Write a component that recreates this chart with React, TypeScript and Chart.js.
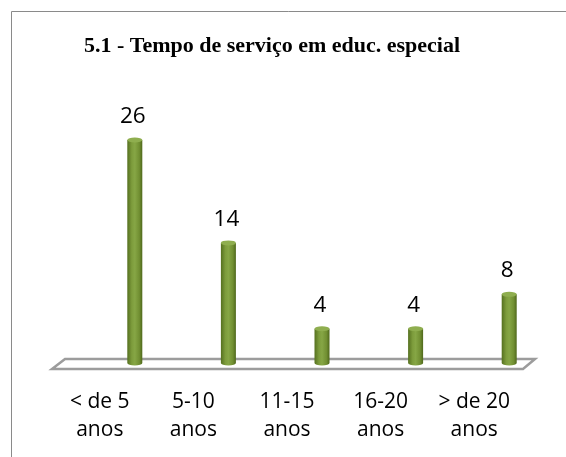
import React, { useEffect, useRef } from "react";
import { Chart, registerables } from "chart.js";

Chart.register(...registerables);

const categories: string[][] = [
  ["< de 5", "anos"],
  ["5-10", "anos"],
  ["11-15", "anos"],
  ["16-20", "anos"],
  ["> de 20", "anos"],
];
const values: number[] = [26, 14, 4, 4, 8];
const titleText = "5.1 - Tempo de serviço em educ. especial";

const DEPTH_X = 35;
const BAR_W = 15;

const framePlugin = {
  id: "frame",
  beforeDraw(chart: any) {
    const { ctx, width, height } = chart;
    ctx.save();
    ctx.fillStyle = "#ffffff";
    ctx.fillRect(0, 0, width, height);
    ctx.strokeStyle = "#8a8a8a";
    ctx.lineWidth = 1;
    ctx.beginPath();
    ctx.moveTo(11.5, height);
    ctx.lineTo(11.5, 11.5);
    ctx.lineTo(width, 11.5);
    ctx.stroke();
    ctx.restore();
  },
};

const floorPlugin = {
  id: "floor",
  beforeDatasetsDraw(chart: any) {
    const { ctx, chartArea } = chart;
    const l = chartArea.left - 1;
    const r = chartArea.right + 2;
    const b = chartArea.bottom;
    ctx.save();
    ctx.beginPath();
    ctx.moveTo(l, b + 6);
    ctx.lineTo(r, b + 6);
    ctx.lineTo(r + 12, b - 4);
    ctx.lineTo(l + 13, b - 4);
    ctx.closePath();
    ctx.fillStyle = "#ffffff";
    ctx.fill();
    ctx.strokeStyle = "#9c9c9c";
    ctx.lineWidth = 2.5;
    ctx.lineJoin = "miter";
    ctx.stroke();
    ctx.restore();
  },
};

const cylinderPlugin = {
  id: "cylinders",
  beforeDatasetDraw(chart: any, args: any) {
    const meta = args.meta;
    const ctx = chart.ctx;
    ctx.save();
    meta.data.forEach((el: any) => {
      const cx = el.x + DEPTH_X;
      const ty = el.y;
      const by = el.base;
      const rx = BAR_W / 2;
      const ry = 2.5;
      const g = ctx.createLinearGradient(cx - rx, 0, cx + rx, 0);
      g.addColorStop(0, "#55701f");
      g.addColorStop(0.3, "#7d9c3c");
      g.addColorStop(0.5, "#86a645");
      g.addColorStop(0.8, "#718f32");
      g.addColorStop(1, "#4f681c");
      ctx.fillStyle = g;
      ctx.beginPath();
      ctx.moveTo(cx - rx, ty);
      ctx.lineTo(cx - rx, by);
      ctx.ellipse(cx, by, rx, ry, 0, Math.PI, 0, true);
      ctx.lineTo(cx + rx, ty);
      ctx.closePath();
      ctx.fill();
      ctx.beginPath();
      ctx.ellipse(cx, ty, rx, ry, 0, 0, Math.PI * 2);
      ctx.fillStyle = "#8fae4f";
      ctx.fill();
    });
    ctx.restore();
    return false;
  },
  afterDatasetsDraw(chart: any) {
    const ctx = chart.ctx;
    const meta = chart.getDatasetMeta(0);
    ctx.save();
    ctx.font = "22.5px 'Open Sans'";
    ctx.fillStyle = "#000000";
    ctx.textAlign = "center";
    ctx.textBaseline = "alphabetic";
    meta.data.forEach((el: any, i: number) => {
      ctx.fillText(String(values[i]), el.x + DEPTH_X - 2, el.y - 17);
    });
    ctx.restore();
  },
};

export default function App() {
  const ref = useRef<HTMLCanvasElement>(null);
  useEffect(() => {
    document.body.style.margin = "0";
    const chart = new Chart(ref.current as HTMLCanvasElement, {
      type: "bar",
      data: {
        labels: categories,
        datasets: [
          {
            data: values,
            backgroundColor: "#77933c",
          },
        ],
      },
      options: {
        animation: false,
        responsive: false,
        layout: { padding: { left: 0, right: 22, top: 0, bottom: 13 } },
        plugins: {
          legend: { display: false },
          tooltip: { enabled: false },
          title: {
            display: true,
            text: titleText,
            color: "#000000",
            font: { family: "'Liberation Serif'", size: 22, weight: "bold", lineHeight: 1.2 },
            padding: { top: 33, bottom: 46.2 },
          },
        },
        scales: {
          x: {
            offset: true,
            grid: { display: false, drawTicks: false },
            border: { display: false },
            ticks: {
              color: "#000000",
              padding: 25,
              maxRotation: 0,
              autoSkip: false,
              font: { family: "'Open Sans'", size: 21, lineHeight: 1.333 },
            },
            afterFit: (s: any) => {
              s.height = 81;
            },
          },
          y: {
            min: 0,
            max: 30,
            grid: { display: false, drawTicks: false },
            border: { display: false },
            ticks: { display: false },
            afterFit: (s: any) => {
              s.width = 53;
            },
          },
          yR: {
            position: "right",
            min: 0,
            max: 1,
            grid: { display: false, drawTicks: false },
            border: { display: false },
            ticks: { display: false },
            afterFit: (s: any) => {
              s.width = 23;
            },
          },
        },
      } as any,
      plugins: [framePlugin, floorPlugin, cylinderPlugin],
    });
    return () => chart.destroy();
  }, []);
  return (
    <div style={{ width: 566, height: 457 }}>
      <canvas ref={ref} width={566} height={457} />
    </div>
  );
}
